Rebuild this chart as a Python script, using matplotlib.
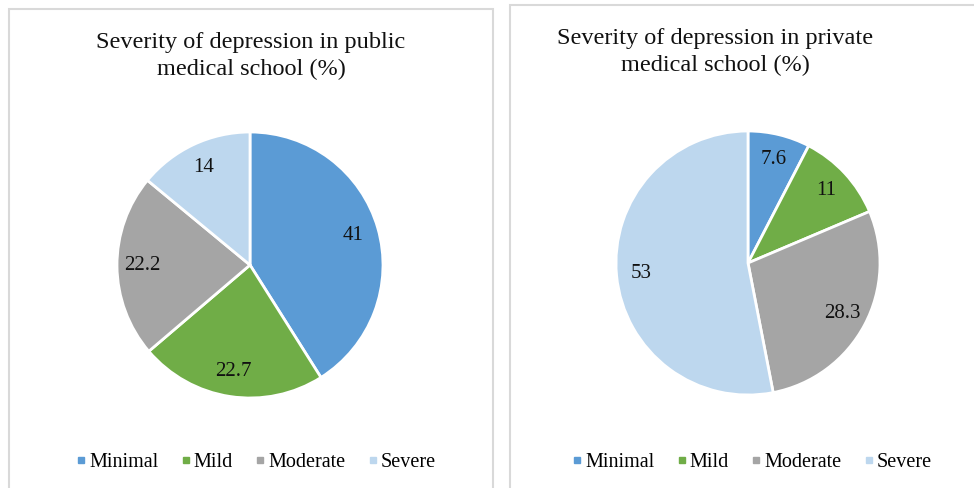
import matplotlib.pyplot as plt
from matplotlib.lines import Line2D
from matplotlib.patches import Rectangle

plt.rcParams['font.family'] = ['Liberation Serif', 'DejaVu Serif']

categories = ['Minimal', 'Mild', 'Moderate', 'Severe']
public_values = [41, 22.7, 22.2, 14]
private_values = [7.6, 11, 28.3, 53]
public_labels = ['41', '22.7', '22.2', '14']
private_labels = ['7.6', '11', '28.3', '53']
colors = ['#5B9BD5', '#70AD47', '#A5A5A5', '#BDD7EE']

W, H = 974, 488
fig = plt.figure(figsize=(W / 100, H / 100), dpi=100)
fig.patch.set_facecolor('white')

# panel frames (pixel coords, y from top)
for x0, y0, x1, y1 in [(9, 9, 493, 500), (510, 5, 990, 500)]:
    fig.add_artist(Rectangle((x0 / W, 1 - y1 / H), (x1 - x0) / W, (y1 - y0) / H,
                             transform=fig.transFigure, fill=False,
                             edgecolor='#D9D9D9', linewidth=1.5))


def draw_pie(rect, values, labels, title, title_x, title_y, legend_x):
    ax = fig.add_axes(rect)
    wedges, _, autotexts = ax.pie(values, colors=colors, startangle=90, counterclock=False,
                                  autopct='%1.1f', pctdistance=0.81,
                                  wedgeprops=dict(edgecolor='white', linewidth=2))
    for t, lab in zip(autotexts, labels):
        t.set_text(lab)
        t.set_fontsize(15)
        t.set_color('#111111')
    ax.set_xlim(-1, 1)
    ax.set_ylim(-1, 1)
    ax.set_aspect('equal')

    fig.text(title_x / W, 1 - title_y / H, title, ha='center', va='center',
             fontsize=17.5, linespacing=1.32, color='#111111')

    handles = [Line2D([], [], marker='s', linestyle='none', markersize=5,
                      markerfacecolor=c, markeredgecolor=c) for c in colors]
    fig.legend(handles, categories, loc='center', bbox_to_anchor=(legend_x / W, 1 - 462 / H),
               ncol=4, frameon=False, fontsize=14.5, handlelength=0.5, handletextpad=0.15,
               columnspacing=1.1)


draw_pie([117 / W, 90 / H, 266 / W, 266 / H], public_values, public_labels,
         'Severity of depression in public\nmedical school (%)', 251, 56, 256)
draw_pie([616 / W, 93 / H, 264 / W, 264 / H], private_values, private_labels,
         'Severity of depression in private\nmedical school (%)', 715, 52, 752)

fig.savefig('out.png', dpi=100)
